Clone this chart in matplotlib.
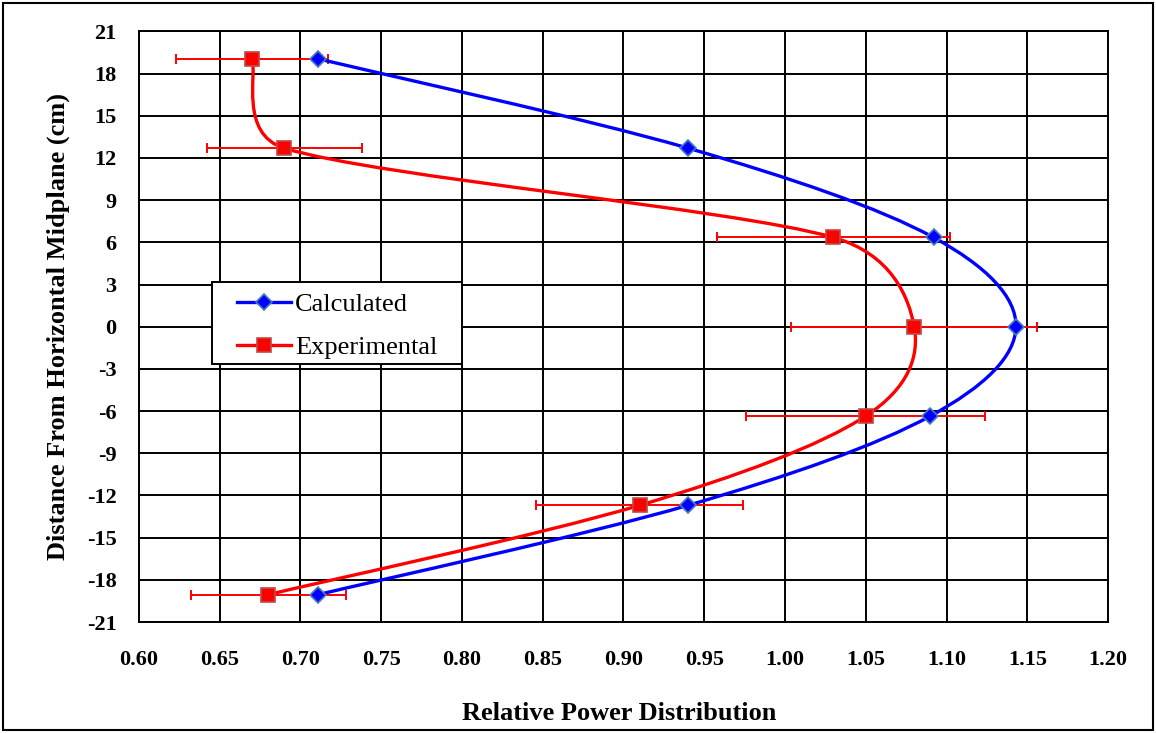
import numpy as np
import matplotlib
matplotlib.use("Agg")
import matplotlib.pyplot as plt
from matplotlib.path import Path
from matplotlib.patches import PathPatch, Rectangle
from matplotlib.lines import Line2D

# ---- data ----
heights = [19.05, 12.7, 6.35, 0.0, -6.35, -12.7, -19.05]
calculated = [0.711, 0.940, 1.092, 1.143, 1.090, 0.940, 0.711]
experimental = [0.670, 0.690, 1.030, 1.080, 1.050, 0.910, 0.680]
exp_error = [0.047, 0.048, 0.072, 0.076, 0.074, 0.064, 0.048]
x_ticks = [0.60, 0.65, 0.70, 0.75, 0.80, 0.85, 0.90, 0.95, 1.00, 1.05, 1.10, 1.15, 1.20]
y_ticks = [-21, -18, -15, -12, -9, -6, -3, 0, 3, 6, 9, 12, 15, 18, 21]

plt.rcParams['font.family'] = ['Liberation Serif', 'DejaVu Serif']

W, H = 1156, 733
fig = plt.figure(figsize=(W / 100, H / 100), dpi=100)
ax = fig.add_axes([0.1202, 0.1514, 0.8383, 0.8057])
ax.set_xlim(0.60, 1.20)
ax.set_ylim(-21, 21)
ax.set_xticks(x_ticks)
ax.set_yticks(y_ticks)
ax.set_xticklabels([f"{v:.2f}" for v in x_ticks])
ax.set_yticklabels([str(v) for v in y_ticks])
ax.tick_params(length=0, labelsize=16)
ax.tick_params(axis='x', pad=20)
ax.tick_params(axis='y', pad=16)
for lab in ax.get_xticklabels() + ax.get_yticklabels():
    lab.set_fontweight('bold')
ax.grid(True, color='black', linewidth=1.4)
ax.set_axisbelow(True)
for s in ax.spines.values():
    s.set_linewidth(1.4)
    s.set_color('black')


def excel_smooth(ax, xs, ys):
    """Build an Excel-like smoothed bezier path (computed in pixel space)."""
    pts = ax.transData.transform(np.column_stack([xs, ys]))
    n = len(pts)
    verts = [pts[0]]
    codes = [Path.MOVETO]
    for i in range(n - 1):
        p1, p2 = pts[i], pts[i + 1]
        p0 = pts[i - 1] if i > 0 else p1
        p3 = pts[i + 2] if i + 2 < n else p2
        d12 = np.linalg.norm(p2 - p1)
        t1 = p2 - p0
        t2 = p3 - p1
        l1 = np.linalg.norm(t1)
        l2 = np.linalg.norm(t2)
        h1 = min(l1 / 6, d12 / 2)
        h2 = min(l2 / 6, d12 / 2)
        b1 = p1 + (t1 / l1 * h1 if l1 > 0 else 0)
        b2 = p2 - (t2 / l2 * h2 if l2 > 0 else 0)
        verts += [b1, b2, p2]
        codes += [Path.CURVE4] * 3
    verts = ax.transData.inverted().transform(np.array(verts))
    return Path(verts, codes)


blue = '#0000FF'
red = '#FF0000'
blue_edge = '#4A7EBB'
red_edge = '#BE4B48'

# error bars
ax.errorbar(experimental, heights, xerr=exp_error, fmt='none', ecolor=red,
            elinewidth=1.4, capsize=3.9, capthick=1.4, zorder=3)

# smoothed lines
ax.add_patch(PathPatch(excel_smooth(ax, calculated, heights), facecolor='none',
                       edgecolor=blue, linewidth=2.4, zorder=4))
ax.add_patch(PathPatch(excel_smooth(ax, experimental, heights), facecolor='none',
                       edgecolor=red, linewidth=2.4, zorder=4))

# markers
ax.plot(calculated, heights, linestyle='none', marker='D', markersize=8,
        markerfacecolor=blue, markeredgecolor=blue_edge, markeredgewidth=1.2, zorder=6)
ax.plot(experimental, heights, linestyle='none', marker='s', markersize=10,
        markerfacecolor=red, markeredgecolor=red_edge, markeredgewidth=1.2, zorder=6)

# legend (frame drawn separately to match box padding)
handles = [
    Line2D([], [], color=blue, linewidth=2.4, marker='D', markersize=8,
           markerfacecolor=blue, markeredgecolor=blue_edge, markeredgewidth=1.2),
    Line2D([], [], color=red, linewidth=2.4, marker='s', markersize=10,
           markerfacecolor=red, markeredgecolor=red_edge, markeredgewidth=1.2),
]
fs = 19
lx0, ly0 = 237, 293  # pixel position of legend content (top-left)
leg = fig.legend(handles, ['Calculated', 'Experimental'], loc='upper left',
                 bbox_to_anchor=(lx0 / W, 1 - ly0 / H), prop={'size': fs},
                 frameon=False, handlelength=2.05, handletextpad=0.15,
                 borderpad=0, labelspacing=0.74, borderaxespad=0)
leg.set_zorder(11)
bx0, by0, bx1, by1 = 212, 282, 462, 364
fig.patches.append(Rectangle((bx0 / W, 1 - by1 / H), (bx1 - bx0) / W, (by1 - by0) / H,
                             transform=fig.transFigure, facecolor='white',
                             edgecolor='black', linewidth=1.4, zorder=10))

fig.text(0.536, 0.026, 'Relative Power Distribution', ha='center', va='center',
         fontsize=19, fontweight='bold')
fig.text(0.050, 0.554, 'Distance From Horizontal Midplane (cm)', ha='center',
         va='center', rotation=90, fontsize=19, fontweight='bold')

fig.patches.append(Rectangle((0.003, 0.004), 0.994, 0.992, transform=fig.transFigure,
                             fill=False, edgecolor='black', linewidth=1.5))

fig.savefig('out.png', dpi=100)
